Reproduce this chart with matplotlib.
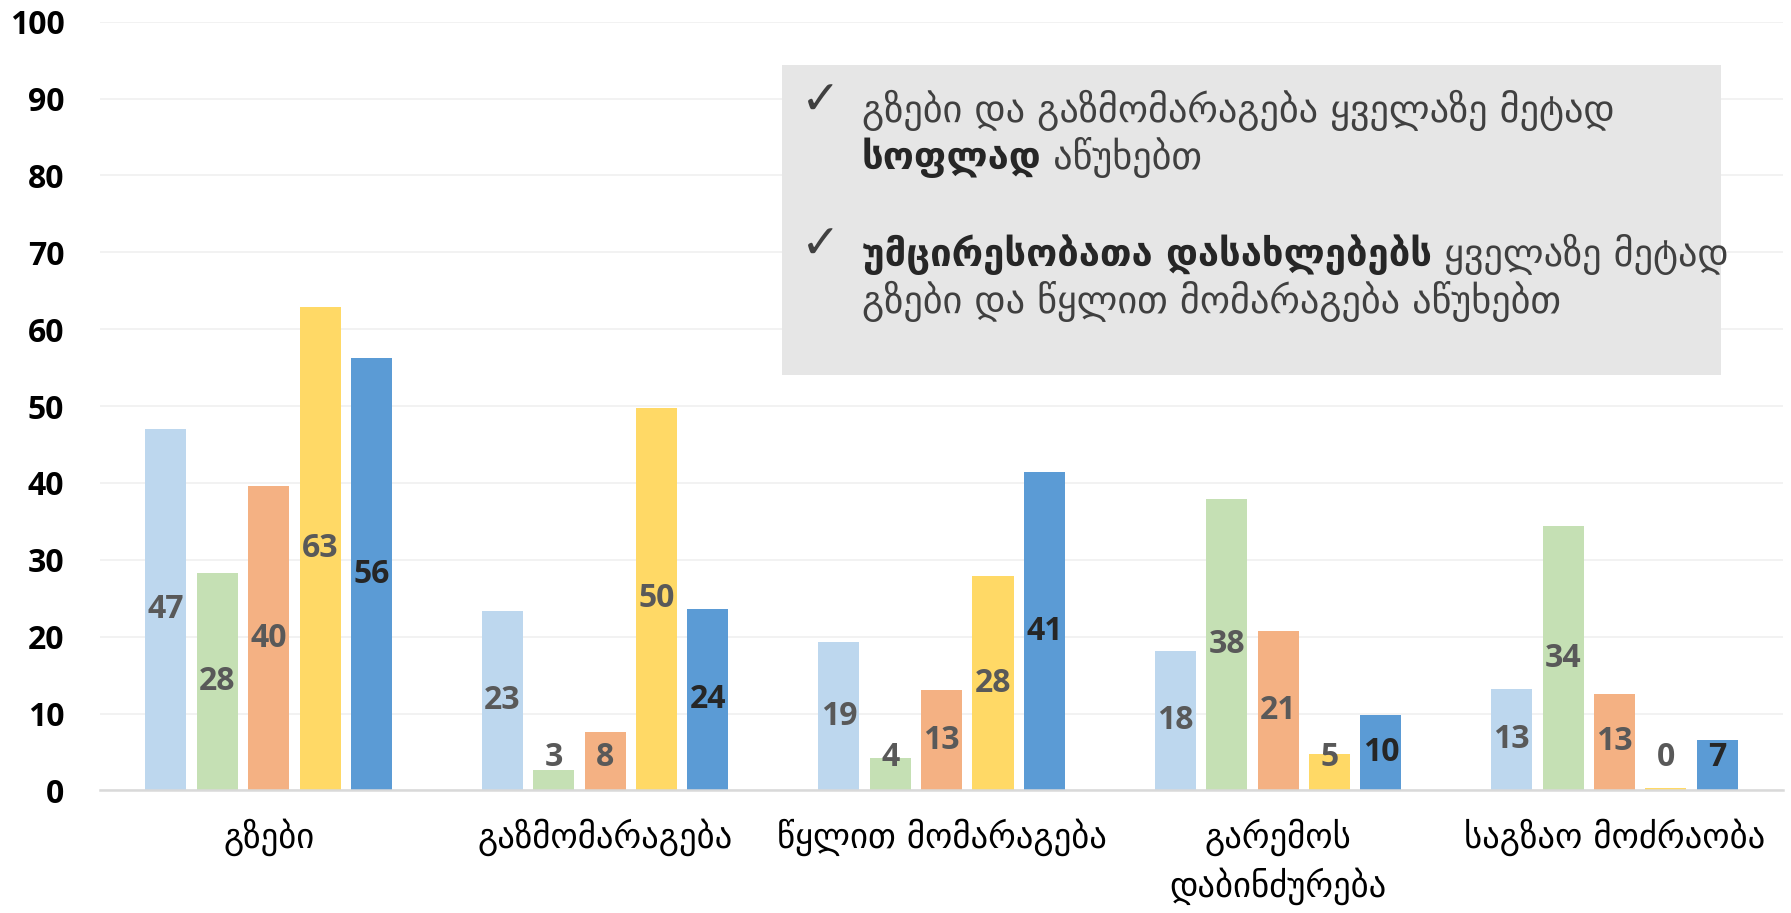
import numpy as np
import matplotlib
matplotlib.use('Agg')
import matplotlib.pyplot as plt
from matplotlib.patches import Rectangle

# categories on the x axis
categories = ['გზები', 'გაზმომარაგება', 'წყლით მომარაგება', 'გარემოს\nდაბინძურება', 'საგზაო მოძრაობა']

# five series (legend not shown in the original)
series_1 = [47.0, 23.3, 19.3, 18.1, 13.2]
series_2 = [28.3, 2.6, 4.2, 37.9, 34.4]
series_3 = [39.6, 7.6, 13.1, 20.8, 12.6]
series_4 = [62.9, 49.8, 27.9, 4.7, 0.3]
series_5 = [56.2, 23.6, 41.4, 9.8, 6.6]

y_ticks = [0, 10, 20, 30, 40, 50, 60, 70, 80, 90, 100]

note_lines = [
    [('გზები და გაზმომარაგება ყველაზე მეტად', False)],
    [('სოფლად', True), (' აწუხებთ', False)],
    [('უმცირესობათა დასახლებებს', True), (' ყველაზე მეტად', False)],
    [('გზები და წყლით მომარაგება აწუხებთ', False)],
]

colors = ['#BDD7EE', '#C5E0B4', '#F4B183', '#FFD966', '#5B9BD5']
label_colors = ['#595959', '#595959', '#595959', '#595959', '#262626']

fig = plt.figure(figsize=(17.91, 9.13), dpi=100)
ax = fig.add_axes([0.0561, 0.1343, 0.9393, 0.8419])

all_series = [series_1, series_2, series_3, series_4, series_5]
x = np.arange(len(categories))
pitch = 0.1527
width = 0.122

for i, vals in enumerate(all_series):
    xs = x + (i - 2) * pitch
    ax.bar(xs, vals, width=width, color=colors[i], zorder=2)
    for xi, v in zip(xs, vals):
        # labels sit in the middle of the bar, but never too close to the axis
        ypos = max(v / 2, 4.3)
        ax.text(xi, ypos, f'{v:.0f}', ha='center', va='center', fontsize=23,
                fontweight='bold', family='Open Sans', color=label_colors[i], zorder=3)

ax.set_xlim(-0.5, len(categories) - 0.5)
ax.set_ylim(0, 100)
ax.set_yticks(y_ticks)
ax.set_yticklabels([str(t) for t in y_ticks], fontsize=23, fontweight='bold', family='Open Sans')
ax.set_xticks(x)
ax.set_xticklabels(categories, fontsize=25, family='DejaVu Sans', color='black',
                   linespacing=1.4)
ax.tick_params(axis='both', length=0)
ax.tick_params(axis='y', pad=26)
ax.tick_params(axis='x', pad=20)

ax.grid(axis='y', color='#F0F0F0', linewidth=1.2, zorder=0)
ax.set_axisbelow(True)
for s in ['top', 'right', 'left']:
    ax.spines[s].set_visible(False)
ax.spines['bottom'].set_color('#D9D9D9')
ax.spines['bottom'].set_linewidth(1.8)

# grey note box
box = Rectangle((0.4053, 0.541), 0.5582, 0.4025, transform=ax.transAxes,
                facecolor='#E6E6E6', edgecolor='none', zorder=4)
ax.add_patch(box)

line_y = [0.858, 0.797, 0.670, 0.609]
for k, (yy, parts) in enumerate(zip(line_y, note_lines)):
    if k in (0, 2):
        ax.text(0.4165, yy + 0.008, '✓', transform=ax.transAxes, fontsize=34,
                color='#404040', va='bottom', ha='left', zorder=5, family='DejaVu Sans')
    prev = None
    for txt, bold in parts:
        kw = dict(fontsize=27.5, color='#262626' if bold else '#404040',
                  fontweight='bold' if bold else 'normal', family='DejaVu Sans',
                  va='bottom', ha='left', zorder=5)
        if prev is None:
            prev = ax.text(0.4525, yy, txt, transform=ax.transAxes, **kw)
        else:
            prev = ax.annotate(txt, xy=(1, 0), xycoords=prev, **kw)

fig.savefig('out.png', dpi=100)
